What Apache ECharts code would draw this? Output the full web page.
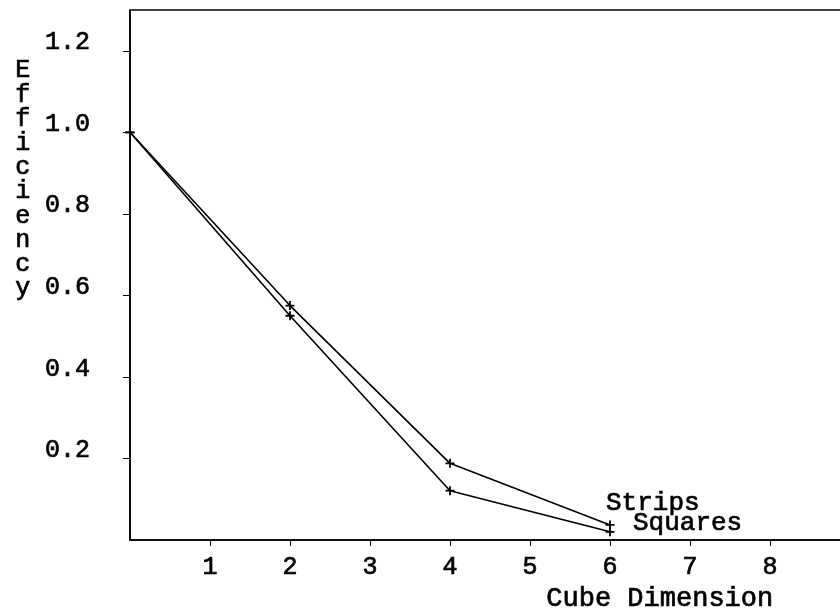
<!DOCTYPE html>
<html><head><meta charset="utf-8">
<script src="https://cdn.jsdelivr.net/npm/echarts@6/dist/echarts.min.js"></script>
<style>html,body{margin:0;padding:0;background:#fff}#c{width:840px;height:614px}</style>
</head><body><div id="c"></div>
<script>
const cubeDim = [0, 2, 4, 6];
const strips = [1.0, 0.575, 0.188, 0.037];
const squares = [1.0, 0.55, 0.121, 0.02];
const xTicks = [1, 2, 3, 4, 5, 6, 7, 8];
const yTicks = [0.2, 0.4, 0.6, 0.8, 1.0, 1.2];
const seriesNames = ['Strips', 'Squares'];
const xName = 'Cube Dimension';
const yName = 'Efficiency';

const FONT = '"Liberation Mono", "DejaVu Sans Mono", monospace';
const TXT = {fontFamily: FONT, color: '#000', textBorderColor: '#000', textBorderWidth: 0.7};
const star = 'path://M4,0L6,0L6,4L10,4L10,6L6,6L6,10L4,10L4,6L0,6L0,4L4,4Z';
const chart = echarts.init(document.getElementById('c'), null, {renderer: 'canvas'});
function mk(name, vals, labelOff) {
  return {
    name: name, type: 'line', data: cubeDim.map((x, i) => [x, vals[i]]),
    lineStyle: {color: '#000', width: 1.6}, itemStyle: {color: '#000'},
    symbol: star, symbolSize: 9, showSymbol: true,
    endLabel: Object.assign({show: true, formatter: name, fontSize: 26, offset: labelOff}, TXT),
    animation: false
  };
}
chart.setOption({
  animation: false,
  grid: {left: 130, right: -2, top: 10, bottom: 74, show: true, borderColor: '#000', borderWidth: 1.5, outerBoundsMode: 'none', containLabel: false},
  xAxis: {
    type: 'value', min: 0, max: 8.9,
    axisLine: {show: true, lineStyle: {color: '#000', width: 1.6}},
    axisTick: {show: true, inside: false, length: 6, customValues: xTicks, lineStyle: {color: '#000'}},
    axisLabel: Object.assign({customValues: xTicks, fontSize: 25, margin: 15}, TXT),
    splitLine: {show: false}
  },
  yAxis: {
    type: 'value', min: 0, max: 1.3,
    axisLine: {show: true, lineStyle: {color: '#000', width: 1.6}},
    axisTick: {show: true, inside: false, length: 7, customValues: yTicks, lineStyle: {color: '#000'}},
    axisLabel: Object.assign({customValues: yTicks, formatter: v => v.toFixed(1), fontSize: 25, margin: 40, verticalAlign: 'bottom', lineHeight: 16}, TXT),
    splitLine: {show: false}
  },
  graphic: [
    {type: 'text', left: 546, top: 585, style: {text: xName, font: '27px ' + FONT, fill: '#000', stroke: '#000', lineWidth: 0.7}},
    {type: 'text', left: 15, top: 58, style: {text: yName.split('').join('\n'), font: '25px ' + FONT, lineHeight: 24.2, fill: '#000', stroke: '#000', lineWidth: 0.7}}
  ],
  series: [mk(seriesNames[0], strips, [-12, -22]), mk(seriesNames[1], squares, [15, -9])]
});
</script></body></html>
